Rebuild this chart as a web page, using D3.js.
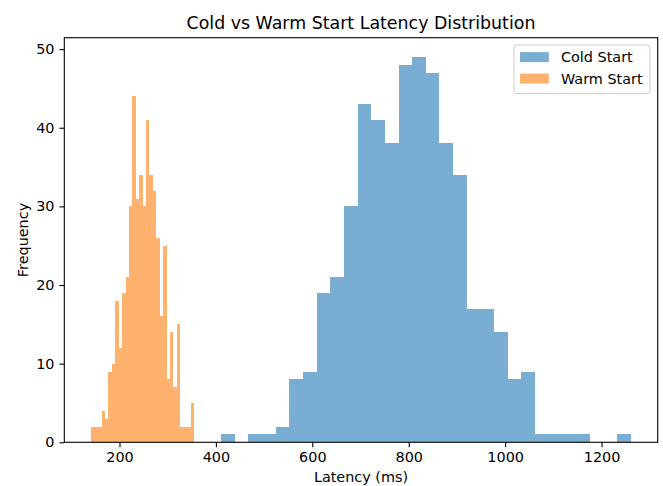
<!DOCTYPE html>
<html>
<head>
<meta charset="utf-8">
<script src="https://cdn.jsdelivr.net/npm/d3@7"></script>
<style>
  html, body { margin: 0; padding: 0; background: #fff; }
  svg { display: block; font-family: "DejaVu Sans", sans-serif; }
</style>
</head>
<body>
<svg id="chart" width="663" height="486"></svg>
<script>
// ---- data ----
const coldRange = [410.5, 1260.5];
const coldCounts = [1,0,1,1,2,8,9,19,21,30,43,41,38,48,49,47,38,34,17,17,14,8,9,1,1,1,1,0,0,1];
const warmRange = [141.5, 354.5];
const warmCounts = [2,2,2,4,3,9,10,18,12,19,21,30,44,31,34,30,41,34,32,26,16,25,8,14,7,15,2,2,2,5];
const seriesNames = ["Cold Start", "Warm Start"];
const seriesColors = ["#1f77b4", "#ff7f0e"];
const xTicks = [200, 400, 600, 800, 1000, 1200];
const yTicks = [0, 10, 20, 30, 40, 50];
const titleText = "Cold vs Warm Start Latency Distribution";
const xLabel = "Latency (ms)";
const yLabel = "Frequency";

// ---- layout ----
const svg = d3.select("#chart");
const L = 64.3, R = 657.7, T = 37.7, B = 442.3;
const FS = 14.4, TFS = 17.4;

function bins(range, counts) {
  const w = (range[1] - range[0]) / counts.length;
  return counts.map((c, i) => ({x0: range[0] + i * w, x1: range[0] + (i + 1) * w, c}));
}
const series = [bins(coldRange, coldCounts), bins(warmRange, warmCounts)];

const dmin = Math.min(coldRange[0], warmRange[0]);
const dmax = Math.max(coldRange[1], warmRange[1]);
const pad = (dmax - dmin) * 0.05;
const x = d3.scaleLinear().domain([dmin - pad, dmax + pad]).range([L, R]);
const ymax = d3.max(series.flat(), d => d.c) * 1.05;
const y = d3.scaleLinear().domain([0, ymax]).range([B, T]);

// bars
series.forEach((s, si) => {
  svg.append("g").selectAll("rect").data(s.filter(d => d.c > 0)).join("rect")
    .attr("x", d => x(d.x0))
    .attr("width", d => x(d.x1) - x(d.x0))
    .attr("y", d => y(d.c))
    .attr("height", d => y(0) - y(d.c))
    .attr("fill", seriesColors[si])
    .attr("fill-opacity", 0.6)
    .attr("shape-rendering", "crispEdges");
});

// axes
const xAxis = d3.axisBottom(x).tickValues(xTicks).tickSize(4.9).tickPadding(4.9).tickFormat(d3.format("d"));
const yAxis = d3.axisLeft(y).tickValues(yTicks).tickSize(4.9).tickPadding(4.9).tickFormat(d3.format("d"));
const gx = svg.append("g").attr("transform", `translate(0,${B})`).call(xAxis);
const gy = svg.append("g").attr("transform", `translate(${L},0)`).call(yAxis);
[gx, gy].forEach(g => {
  g.select(".domain").remove();
  g.selectAll(".tick line").attr("stroke", "#000").attr("stroke-width", 1.1);
  g.selectAll(".tick text").attr("fill", "#000").style("font-size", FS + "px").style("font-family", "DejaVu Sans");
});

// frame
svg.append("rect").attr("x", L).attr("y", T).attr("width", R - L).attr("height", B - T)
  .attr("fill", "none").attr("stroke", "#000").attr("stroke-width", 1.1);

// title & labels
svg.append("text").attr("x", (L + R) / 2).attr("y", 28.5).attr("text-anchor", "middle")
  .style("font-size", TFS + "px").attr("fill", "#000").text(titleText);
svg.append("text").attr("x", (L + R) / 2).attr("y", 481.5).attr("text-anchor", "middle")
  .style("font-size", FS + "px").attr("fill", "#000").text(xLabel);
svg.append("text").attr("transform", `translate(27.5,${(T + B) / 2}) rotate(-90)`).attr("text-anchor", "middle")
  .style("font-size", FS + "px").attr("fill", "#000").text(yLabel);

// legend
const lg = svg.append("g");
lg.append("rect").attr("x", 514).attr("y", 45).attr("width", 136).attr("height", 48.5)
  .attr("rx", 2.8).attr("fill", "#fff").attr("fill-opacity", 0.8)
  .attr("stroke", "#cccccc").attr("stroke-width", 1);
seriesNames.forEach((n, i) => {
  const cy = 57 + i * 21.5;
  lg.append("rect").attr("x", 520).attr("y", cy - 4.9).attr("width", 28.8).attr("height", 10)
    .attr("fill", seriesColors[i]).attr("fill-opacity", 0.6);
  lg.append("text").attr("x", 561).attr("y", cy + 5.2).style("font-size", FS + "px")
    .attr("fill", "#000").text(n);
});
</script>
</body>
</html>
